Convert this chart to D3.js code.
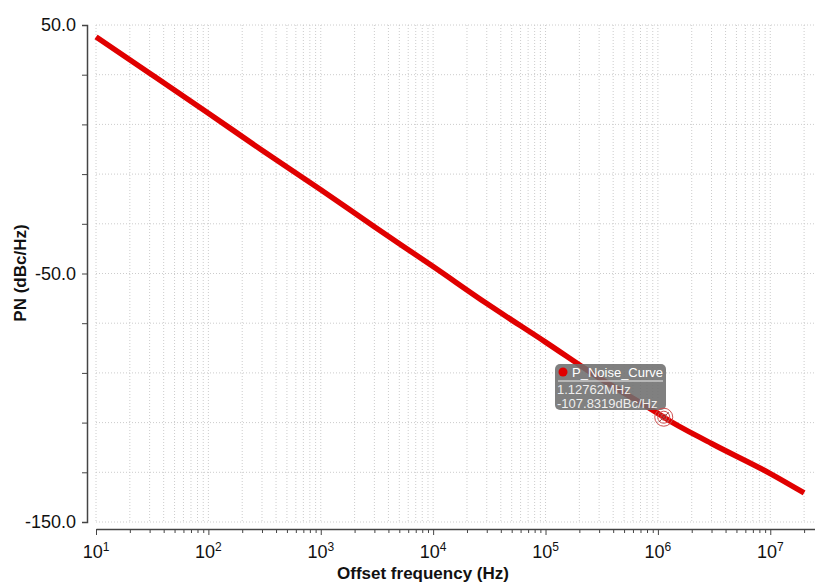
<!DOCTYPE html>
<html>
<head>
<meta charset="utf-8">
<script src="https://cdn.jsdelivr.net/npm/d3@7"></script>
<style>
  body { margin: 0; background: #fff; }
  text { font-family: "Liberation Sans", Arial, sans-serif; }
</style>
</head>
<body>
<div id="chart-area"></div>
<script>
// phase noise curve
let freqs = [10, 30, 100, 300, 1e3, 3e3, 1e4, 3e4, 1e5, 3e5, 1e6, 1.12762e6, 3e6, 1e7, 2e7];
let pn    = [45.2, 30.6, 14.5, -0.4, -16.3, -31.2, -47.2, -62.1, -77.6, -92.0, -106.3, -107.83, -118.4, -130.5, -138.3];
let yTickValues = [50, 30, 10, -10, -30, -50, -70, -90, -110, -130, -150];
let yLabelled = [50, -50, -150];
let decades = [1, 2, 3, 4, 5, 6, 7];
let marker = {f: 1.12762e6, v: -107.83, name: "P_Noise_Curve", lines: ["1.12762MHz", "-107.8319dBc/Hz"]};

let W = 815, H = 583;
let svg = d3.select("#chart-area").append("svg")
    .attr("width", W).attr("height", H);

let x = d3.scaleLog().domain([10, 2.5e7]).range([96, 815]);
let y = d3.scaleLinear().domain([-150, 50]).range([522, 25]);

// grid
let minorTicks = [];
for (let e = 1; e <= 7; e++) {
  for (let m = 1; m <= 9; m++) {
    let v = m * Math.pow(10, e);
    if (v <= 2.5e7) minorTicks.push(v);
  }
}
let grid = svg.append("g").attr("class", "grid");
grid.selectAll(".vg").data(minorTicks).enter().append("line")
    .attr("x1", d => x(d)).attr("x2", d => x(d))
    .attr("y1", y(50)).attr("y2", y(-150))
    .attr("stroke", "#cccccc").attr("stroke-width", 1)
    .attr("stroke-dasharray", "1,2");
grid.selectAll(".hg").data(yTickValues).enter().append("line")
    .attr("x1", x(10)).attr("x2", W)
    .attr("y1", d => y(d)).attr("y2", d => y(d))
    .attr("stroke", "#cccccc").attr("stroke-width", 1)
    .attr("stroke-dasharray", "1,2");

// y axis
let yAxis = d3.axisLeft(y).tickValues(yTickValues).tickSize(5)
    .tickFormat(d => yLabelled.includes(d) ? d.toFixed(1) : "");
let yg = svg.append("g").attr("transform", "translate(87,0)").call(yAxis);
yg.attr("font-size", null).attr("font-family", null);
yg.select(".domain").attr("stroke", "#444").attr("stroke-width", 1.5);
yg.selectAll(".tick line").attr("stroke", "#444");
yg.selectAll(".tick text").style("font-size", "18px").attr("fill", "#111").attr("dx", -3);

// x axis
let xAxis = d3.axisBottom(x).tickValues(minorTicks).tickSizeOuter(0)
    .tickFormat(() => "");
let xg = svg.append("g").attr("transform", "translate(0,529)").call(xAxis);
xg.select(".domain").attr("stroke", "#444").attr("stroke-width", 1.5);
xg.selectAll(".tick line").attr("stroke", "#444")
    .attr("y2", d => Math.abs(Math.log10(d) - Math.round(Math.log10(d))) < 1e-9 ? 6 : 4);

let dl = svg.append("g");
decades.forEach(e => {
  let t = dl.append("text")
      .attr("x", x(Math.pow(10, e)))
      .attr("y", 558)
      .attr("text-anchor", "middle")
      .style("font-size", "18px").attr("fill", "#111");
  t.append("tspan").text("10");
  t.append("tspan").attr("dy", -7).style("font-size", "12px").text(e);
});

// axis titles
svg.append("text")
    .attr("x", 423).attr("y", 579)
    .attr("text-anchor", "middle")
    .style("font-size", "17px").attr("font-weight", "bold").attr("fill", "#111")
    .text("Offset frequency (Hz)");
svg.append("text")
    .attr("transform", "translate(26,273) rotate(-90)")
    .attr("text-anchor", "middle")
    .style("font-size", "17px").attr("font-weight", "bold").attr("fill", "#111")
    .text("PN (dBc/Hz)");

// curve
let data = freqs.map((f, i) => ({f: f, v: pn[i]}));
let line = d3.line().x(d => x(d.f)).y(d => y(d.v)).curve(d3.curveMonotoneX);
svg.append("path").datum(data)
    .attr("d", line)
    .attr("fill", "none")
    .attr("stroke", "#e00000")
    .attr("stroke-width", 5.5);

// tooltip
let tip = svg.append("g").attr("transform", "translate(555,364)");
tip.append("rect").attr("width", 111).attr("height", 46).attr("rx", 5)
    .attr("fill", "#6e6e6e").attr("opacity", 0.88);
tip.append("circle").attr("cx", 8).attr("cy", 8).attr("r", 4.5).attr("fill", "#e00000");
tip.append("text").attr("x", 17).attr("y", 12.5)
    .style("font-size", "13px").attr("fill", "#fff").text(marker.name);
tip.append("line").attr("x1", 3).attr("x2", 108).attr("y1", 17).attr("y2", 17)
    .attr("stroke", "#eee").attr("stroke-width", 1);
marker.lines.forEach((s, i) => {
  tip.append("text").attr("x", 2).attr("y", 30 + i * 14)
      .style("font-size", "13px").attr("fill", "#eee").text(s);
});

// marker
let mx = x(marker.f), my = y(marker.v);
[3, 6, 9].forEach(r => {
  svg.append("circle").attr("cx", mx).attr("cy", my).attr("r", r)
      .attr("fill", "none").attr("stroke", "#d05050").attr("stroke-width", 1);
});
svg.append("path")
    .attr("d", `M${mx - 5},${my - 5}L${mx + 5},${my + 5}M${mx - 5},${my + 5}L${mx + 5},${my - 5}`)
    .attr("stroke", "#905050").attr("stroke-width", 1);
</script>
</body>
</html>
